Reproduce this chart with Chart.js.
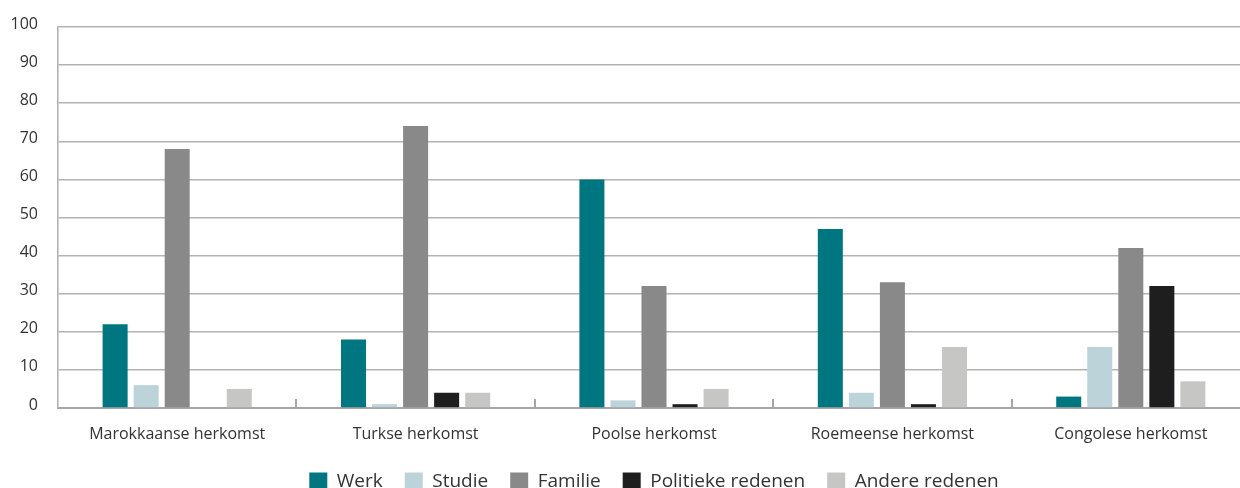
<!DOCTYPE html>
<html>
<head>
<meta charset="utf-8">
<script src="https://cdn.jsdelivr.net/npm/chart.js@4.4.1/dist/chart.umd.min.js"></script>
<style>
  html, body { margin: 0; padding: 0; background: #fff; overflow: hidden; }
  #wrap { width: 1250px; height: 501px; }
</style>
</head>
<body>
<div id="wrap"><canvas id="motiefChart"></canvas></div>
<script>
// Data
const categories = [
  "Marokkaanse herkomst",
  "Turkse herkomst",
  "Poolse herkomst",
  "Roemeense herkomst",
  "Congolese herkomst",
];
const werk = [22, 18, 60, 47, 3];
const studie = [6, 1, 2, 4, 16];
const familie = [68, 74, 32, 33, 42];
const politiek = [0, 4, 1, 1, 32];
const andere = [5, 4, 5, 16, 7];
const yTicks = [0, 10, 20, 30, 40, 50, 60, 70, 80, 90, 100];

const font = "'Open Sans', 'Noto Sans', sans-serif";

// small marks between the categories, pointing up from the base line
const boundaryTicks = {
  id: "boundaryTicks",
  afterDatasetsDraw(chart) {
    const x = chart.scales.x;
    const y = chart.scales.y;
    const ctx = chart.ctx;
    const base = y.getPixelForValue(0);
    ctx.save();
    ctx.strokeStyle = "#a6a6a6";
    ctx.lineWidth = 2;
    for (let i = 0; i < categories.length - 1; i++) {
      const px = Math.round((x.getPixelForValue(i) + x.getPixelForValue(i + 1)) / 2);
      ctx.beginPath();
      ctx.moveTo(px, base);
      ctx.lineTo(px, base - 9);
      ctx.stroke();
    }
    ctx.restore();
  },
};

new Chart(document.getElementById("motiefChart"), {
  type: "bar",
  data: {
    labels: categories,
    datasets: [
      { label: "Werk", data: werk, backgroundColor: "#007681" },
      { label: "Studie", data: studie, backgroundColor: "#bdd3da" },
      { label: "Familie", data: familie, backgroundColor: "#898989" },
      { label: "Politieke redenen", data: politiek, backgroundColor: "#1e1e1e" },
      { label: "Andere redenen", data: andere, backgroundColor: "#c6c6c5" },
    ],
  },
  options: {
    responsive: true,
    maintainAspectRatio: false,
    animation: false,
    layout: { padding: { top: 27, right: 0, left: 0, bottom: 0 } },
    datasets: {
      bar: { categoryPercentage: 0.651, barPercentage: 0.806 },
    },
    plugins: {
      legend: {
        position: "bottom",
        fullSize: false,
        labels: {
          font: { family: font, size: 19 },
          color: "#333",
          boxWidth: 18,
          boxHeight: 18,
          padding: 22,
        },
      },
      tooltip: { enabled: false },
    },
    scales: {
      x: {
        afterFit(scale) {
          scale.height = 42;
        },
        grid: { display: false, drawTicks: false },
        border: { color: "#a6a6a6", width: 2 },
        ticks: {
          font: { family: font, size: 16 },
          color: "#333",
          padding: 17,
        },
      },
      y: {
        min: 0,
        max: 100,
        afterBuildTicks(scale) {
          scale.ticks = yTicks.map((v) => ({ value: v }));
        },
        afterFit(scale) {
          scale.width = 58;
          scale.paddingTop = 0;
          scale.paddingBottom = 0;
        },
        grid: { color: "#b3b3b3", lineWidth: 1.6, drawTicks: false },
        border: { color: "#b3b3b3", width: 1.6 },
        ticks: {
          font: { family: font, size: 16 },
          color: "#333",
          padding: 20,
          labelOffset: -3,
        },
      },
    },
  },
  plugins: [boundaryTicks],
});
</script>
</body>
</html>
